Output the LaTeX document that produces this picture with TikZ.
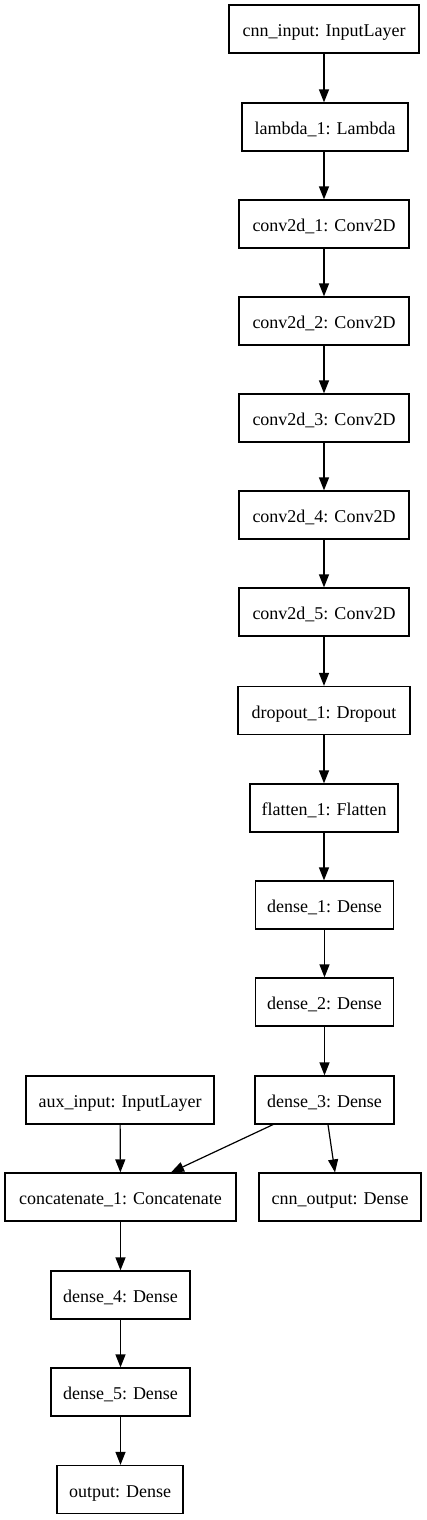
\documentclass[tikz,border=0pt]{standalone}
\usepackage{fontspec}
\setmainfont{Liberation Serif}
\usetikzlibrary{arrows.meta}
\begin{document}
\begin{tikzpicture}[x=1pt,y=-1pt,
  layer/.style={draw,line width=1.2pt,minimum height=48pt,inner sep=0pt,text height=15pt,text depth=0pt,font=\fontsize{18pt}{20pt}\selectfont},
  conn/.style={line width=1.2pt,-{Triangle[length=13pt,width=10pt]}}]
\useasboundingbox[fill=white] (0,0) rectangle (427,1520);
\node[layer,minimum width=190pt] (in) at (324,29) {cnn\_input: InputLayer};
\node[layer,minimum width=166pt] (lam) at (325,127) {lambda\_1: Lambda};
\node[layer,minimum width=170pt] (c1) at (324,224) {conv2d\_1: Conv2D};
\node[layer,minimum width=170pt] (c2) at (324,321) {conv2d\_2: Conv2D};
\node[layer,minimum width=170pt] (c3) at (324,418) {conv2d\_3: Conv2D};
\node[layer,minimum width=170pt] (c4) at (324,515) {conv2d\_4: Conv2D};
\node[layer,minimum width=170pt] (c5) at (324,612) {conv2d\_5: Conv2D};
\node[layer,minimum width=172pt] (drop) at (324,710.5) {dropout\_1: Dropout};
\node[layer,minimum width=148pt] (flat) at (324,808) {flatten\_1: Flatten};
\node[layer,minimum width=138pt] (d1) at (324.5,905) {dense\_1: Dense};
\node[layer,minimum width=138pt] (d2) at (324.5,1002) {dense\_2: Dense};
\node[layer,minimum width=139pt] (d3) at (324.5,1100) {dense\_3: Dense};
\node[layer,minimum width=188pt] (aux) at (120,1100) {aux\_input: InputLayer};
\node[layer,minimum width=231pt] (cat) at (120.5,1197) {concatenate\_1: Concatenate};
\node[layer,minimum width=162pt] (cout) at (340,1197) {cnn\_output: Dense};
\node[layer,minimum width=139pt] (d4) at (120.5,1295) {dense\_4: Dense};
\node[layer,minimum width=139pt] (d5) at (120.5,1392) {dense\_5: Dense};
\node[layer,minimum width=126pt] (out) at (120,1489.5) {output: Dense};
\draw[conn] (in.south -| 324,0) -- (lam.north -| 324,0);
\draw[conn] (lam.south -| 324,0) -- (c1.north);
\draw[conn] (c1) -- (c2);
\draw[conn] (c2) -- (c3);
\draw[conn] (c3) -- (c4);
\draw[conn] (c4) -- (c5);
\draw[conn] (c5) -- (drop);
\draw[conn] (drop) -- (flat);
\draw[conn] (flat.south) -- (d1.north -| flat.south);
\draw[conn] (d1) -- (d2);
\draw[conn] (d2) -- (d3);
\draw[conn] (aux) -- (cat);
\draw[conn] ([xshift=-51.5pt]d3.south) -- ([xshift=50.5pt]cat.north);
\draw[conn] ([xshift=3.5pt]d3.south) -- ([xshift=-5pt]cout.north);
\draw[conn] (cat) -- (d4);
\draw[conn] (d4) -- (d5);
\draw[conn] (d5.south) -- (out.north -| d5.south);
\end{tikzpicture}
\end{document}
